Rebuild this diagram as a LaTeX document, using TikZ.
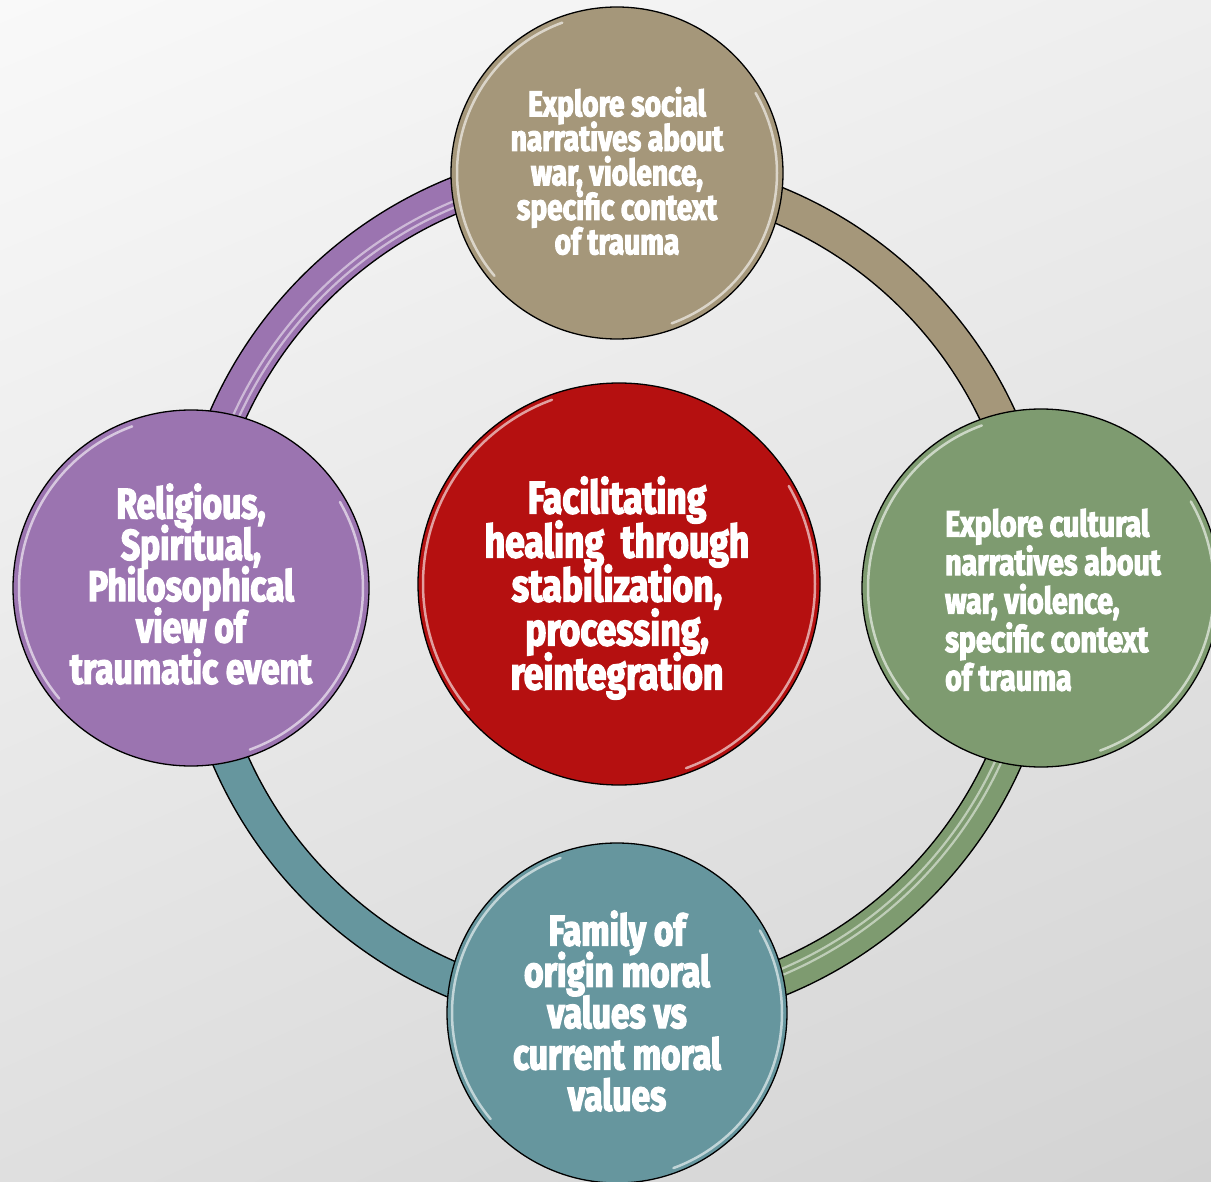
\documentclass[tikz,border=0pt]{standalone}
\usepackage{fontspec}
\usetikzlibrary{shadings}
\setmainfont{Fira Sans}[FakeStretch=0.78, FakeBold=3]
\definecolor{cred}{HTML}{B51010}
\definecolor{ctan}{HTML}{A5977A}
\definecolor{cgreen}{HTML}{7E9B70}
\definecolor{cteal}{HTML}{66969E}
\definecolor{cpurple}{HTML}{9B74B0}
\definecolor{bgul}{HTML}{F9F9F9}
\definecolor{bgur}{HTML}{EEEEEE}
\definecolor{bgll}{HTML}{DFDFDF}
\definecolor{bglr}{HTML}{D3D3D3}
\newcommand\rimglow[2]{%
  \draw[rim] (#1.center) ++(140:#2) arc[start angle=140,end angle=250,radius=#2];
  \draw[rim] (#1.center) ++(-30:#2) arc[start angle=-30,end angle=70,radius=#2];}
\newcommand\txtfont[2]{\bfseries\fontsize{#1}{#2}\selectfont\lineskiplimit=-200pt\relax}
\begin{document}
\begin{tikzpicture}[x=1pt,y=-1pt,
  bubble/.style={circle, draw=black, line width=1.3, inner sep=0, outer sep=0},
  txt/.style={text=white, inner sep=0, align=center},
  bandout/.style={line width=37, draw=black},
  rim/.style={draw=white, opacity=0.6, line width=2.5, line cap=round},
  stripe/.style={draw=white, opacity=0.5, line width=2.2},
]
\shade[upper left=bgul, upper right=bgur, lower left=bgll, lower right=bglr] (0,0) rectangle (1211,1182);
\useasboundingbox (0,0) rectangle (1211,1182);

% node centres
\coordinate (ptop) at (617,173);
\coordinate (pright) at (1041,588);
\coordinate (pbot) at (617,1013);
\coordinate (pleft) at (191,588);

% ring bands
\draw[bandout] (ptop) arc[start angle=270,end angle=360,radius=420];
\draw[bandout] (pright) arc[start angle=0,end angle=90,radius=422];
\draw[bandout] (pbot) arc[start angle=90,end angle=180,radius=422];
\draw[bandout] (pleft) arc[start angle=180,end angle=270,radius=424];
\draw[line width=34, ctan] (ptop) arc[start angle=270,end angle=360,radius=420];
\draw[line width=34, cgreen] (pright) arc[start angle=0,end angle=90,radius=422];
\draw[line width=34, cteal] (pbot) arc[start angle=90,end angle=180,radius=422];
\draw[line width=34, cpurple] (pleft) arc[start angle=180,end angle=270,radius=424];
% glossy stripes
\draw[stripe] (pleft) ++(5,0) arc[start angle=180,end angle=270,radius=419];
\draw[stripe] (pleft) ++(11,0) arc[start angle=180,end angle=270,radius=413];
\draw[stripe] (pright) ++(-2,0) arc[start angle=0,end angle=90,radius=420];
\draw[stripe] (pright) ++(-8,0) arc[start angle=0,end angle=90,radius=414];

% circles
\node[bubble, fill=ctan, minimum size=332] (ctop) at (ptop) {};
\node[bubble, fill=cgreen, minimum size=358] (cright) at (pright) {};
\node[bubble, fill=cteal, minimum size=340] (cbot) at (pbot) {};
\node[bubble, fill=cpurple, minimum size=356] (cleft) at (pleft) {};
\node[bubble, fill=cred, minimum size=402] (ccenter) at (619,584) {};
\rimglow{ctop}{160}
\rimglow{cright}{173}
\rimglow{cbot}{165}
\rimglow{cleft}{172}
\rimglow{ccenter}{196}

% texts
\node[txt, font=\txtfont{36}{34.5}] (ttop) at (617,171)
  {Explore social\\narratives about\\war, violence,\\specific context\\of trauma};
\node[txt, font=\txtfont{45.5}{44}] (tcenter) at (617,588)
  {Facilitating\\healing~~through\\stabilization,\\processing,\\reintegration};
\node[txt, align=left, anchor=west, font=\txtfont{36.5}{38.5}] (tright) at (945,600)
  {Explore cultural\\narratives about\\war, violence,\\specific context\\of trauma};
\node[txt, font=\txtfont{43}{41.3}] (tbot) at (617,1011)
  {Family of\\origin moral\\values vs\\current moral\\values};
\node[txt, font=\txtfont{43}{41.3}] (tleft) at (191,584)
  {Religious,\\Spiritual,\\Philosophical\\view of\\traumatic event};
\end{tikzpicture}
\end{document}
